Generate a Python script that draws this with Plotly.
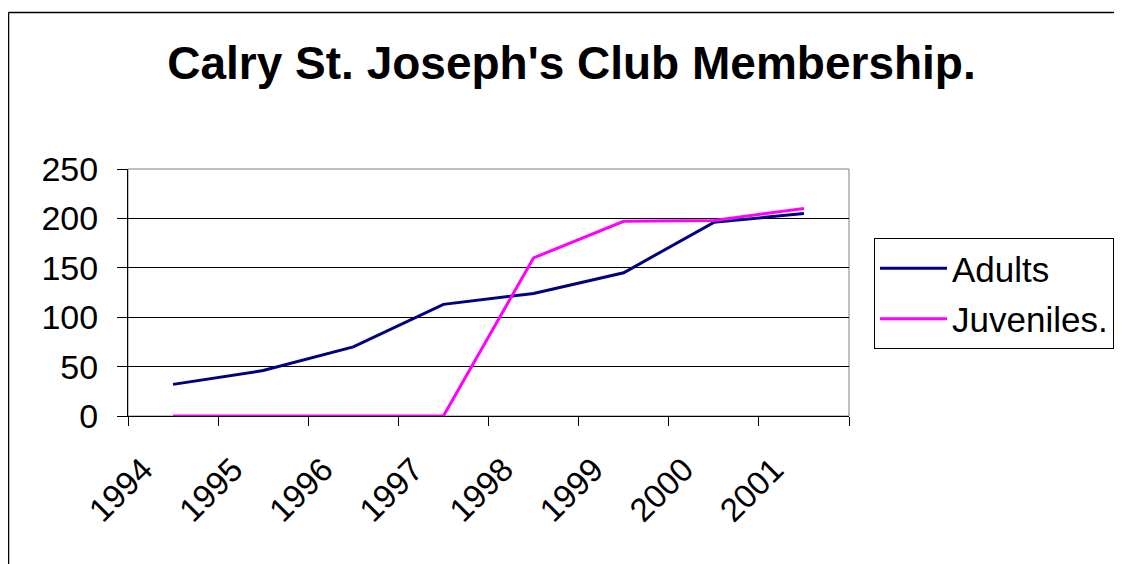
import plotly.graph_objects as go

years = ["1994", "1995", "1996", "1997", "1998", "1999", "2000", "2001"]
adults = [32, 46, 70, 113, 124, 145, 196, 205]
juveniles = [0, 0, 0, 0, 160, 197, 198, 210]
y_ticks = [0, 50, 100, 150, 200, 250]

FONT = "Liberation Sans, Arial, sans-serif"

fig = go.Figure()
fig.add_trace(go.Scatter(x=years, y=adults, mode="lines", name="Adults",
                         line=dict(color="#000080", width=3), legendgroup="a"))
fig.add_trace(go.Scatter(x=years, y=juveniles, mode="lines", name="Juveniles.",
                         line=dict(color="#FF00FF", width=3), legendgroup="j"))

OFF = 8  # page body margin
W, H = 1122 - OFF, 564 - OFF
L, R, T, B = 128 - OFF, 849 - OFF, 169 - OFF, 416 - OFF
pw, ph = R - L, B - T

def px(x):
    return (x - OFF - L) / pw

def py(y):
    return (B - (y - OFF)) / ph

fig.update_layout(
    width=W, height=H,
    margin=dict(l=L, r=W - R, t=T, b=H - B, pad=0, autoexpand=False),
    paper_bgcolor="white", plot_bgcolor="white",
    font=dict(family=FONT, color="black"),
    title=dict(text="<b>Calry St. Joseph's Club Membership.</b>",
               font=dict(size=46, family=FONT, color="black"),
               x=(571.5 - OFF) / W, xref="container", xanchor="center",
               y=1 - (63 - OFF) / H, yref="container", yanchor="middle"),
    showlegend=True,
    legend=dict(x=px(874), y=py(238), xanchor="left", yanchor="top",
                bordercolor="black", borderwidth=1, bgcolor="white",
                font=dict(size=35, family=FONT, color="black"),
                itemwidth=67,
                traceorder="grouped", tracegroupgap=2),
    xaxis=dict(type="category", tickson="boundaries", ticks="outside",
               ticklen=9, tickcolor="black", tickwidth=1,
               tickangle=-45, tickfont=dict(size=33, family=FONT),
               ticklabelstandoff=20, ticklabelshift=-30,
               showgrid=False, showline=True, linecolor="black", linewidth=1,
               mirror=False, zeroline=False, range=[-0.5, 7.5]),
    yaxis=dict(range=[0, 250], tickvals=y_ticks, ticks="outside",
               ticklen=10, tickcolor="black", tickwidth=1,
               tickfont=dict(size=34, family=FONT), ticklabelstandoff=12,
               showgrid=True, gridcolor="black", gridwidth=1,
               showline=True, linecolor="black", linewidth=1,
               zeroline=False),
    shapes=[
        dict(type="rect", xref="paper", yref="paper", x0=0, x1=1, y0=0, y1=1,
             line=dict(color="#808080", width=1), layer="below"),
        # outer chart frame: left and top edges (others lie off the page)
        dict(type="line", xref="paper", yref="paper",
             x0=px(8.5), x1=px(8.5), y0=py(600), y1=py(12.5),
             line=dict(color="black", width=1.5)),
        dict(type="line", xref="paper", yref="paper",
             x0=px(8.5), x1=px(1200), y0=py(12.5), y1=py(12.5),
             line=dict(color="black", width=1.5)),
    ],
)

fig.write_html("out.html")
